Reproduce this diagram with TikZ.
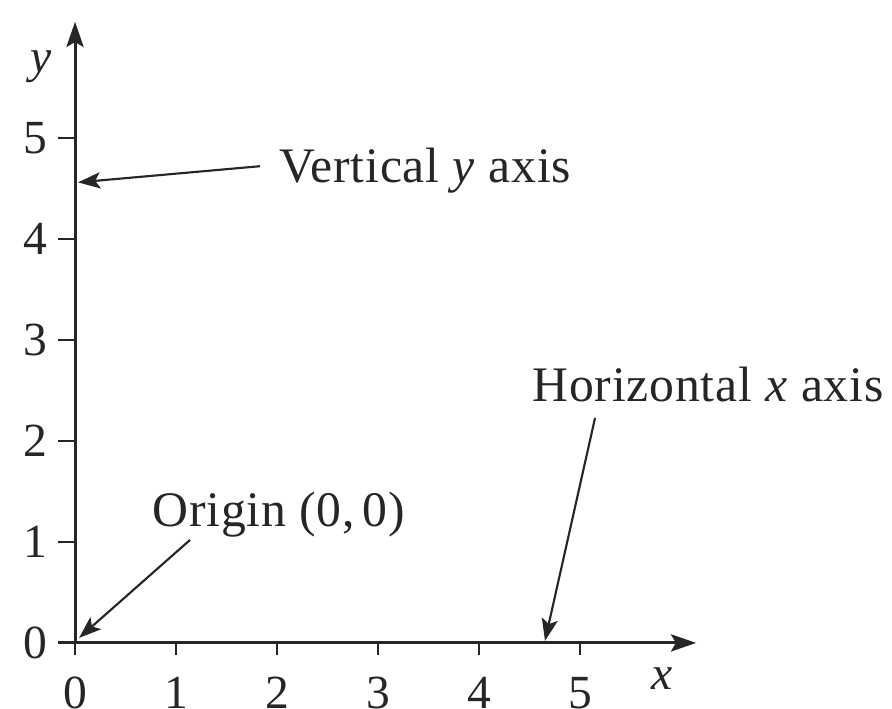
\documentclass[tikz,border=0pt]{standalone}
\usepackage{fontspec}
\setmainfont{Liberation Serif}
\usetikzlibrary{arrows.meta}
\begin{document}
\begin{tikzpicture}[x=1cm,y=1cm,
  axis/.style={line width=0.85pt,draw=black!85,-{Stealth[length=0.25cm,width=0.17cm,inset=0.05cm]}},
  pointer/.style={line width=0.6pt,draw=black!85,-{Stealth[length=0.22cm,width=0.16cm,inset=0.05cm]}},
  tick/.style={line width=0.8pt,draw=black!85},
  lbl/.style={inner sep=0pt,font=\fontsize{13.4}{16}\selectfont,text=black!85},
  ann/.style={lbl,font=\fontsize{14}{17}\selectfont\addfontfeature{LetterSpace=1.5}},
]
\useasboundingbox (-0.743,-0.653) rectangle (8.089,6.366);
\coordinate (O) at (0,0);
\coordinate (xend) at (6.15,0);
\coordinate (yend) at (0,6.15);
\draw[axis] (O) -- (xend);
\draw[axis] (O) -- (yend);
\foreach \i in {0,...,5}{
  \coordinate (xt\i) at (\i,0);
  \coordinate (xb\i) at (\i,-0.12);
  \draw[tick] (xt\i) -- (xb\i);
  \node[lbl,anchor=north] (xl\i) at (\i,-0.33) {\i};
  \coordinate (yt\i) at (0,\i);
  \coordinate (yb\i) at (-0.17,\i);
  \draw[tick] (yt\i) -- (yb\i);
  \node[lbl,anchor=east] (yl\i) at (-0.27,\i) {\i};
}
\node[lbl,anchor=base] (ylab) at (-0.34,5.65) {\textit{y}};
\node[lbl,anchor=base] (xlab) at (5.81,-0.465) {\textit{x}};
\node[ann,anchor=base west] (vlab) at (2.02,4.554) {Vertical \textit{y} axis};
\node[ann,anchor=base west] (olab) at (0.762,1.149) {Origin (0,\,0)};
\node[ann,anchor=base west] (hlab) at (4.525,2.386) {Horizontal \textit{x} axis};
\coordinate (va) at (1.83,4.72);
\coordinate (vb) at (0.03,4.56);
\coordinate (oa) at (1.139,1.02);
\coordinate (ob) at (0.04,0.05);
\coordinate (ha) at (5.149,2.228);
\coordinate (hb) at (4.653,0.02);
\draw[pointer] (va) -- (vb);
\draw[pointer] (oa) -- (ob);
\draw[pointer] (ha) -- (hb);
\end{tikzpicture}
\end{document}
